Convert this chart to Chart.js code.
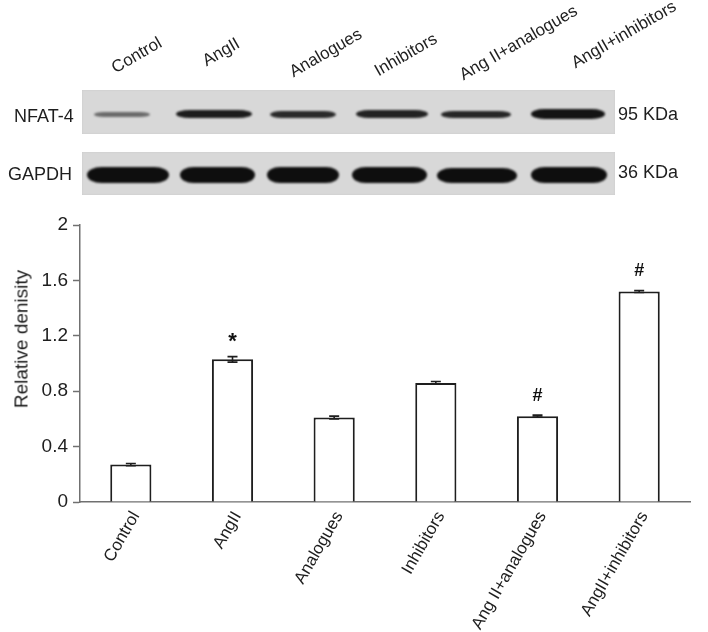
<!DOCTYPE html>
<html>
<head>
<meta charset="utf-8">
<script src="https://cdn.jsdelivr.net/npm/chart.js@4.4.1/dist/chart.umd.min.js"></script>
<style>
  html, body { margin: 0; padding: 0; background: #fff; }
  #wrap { position: relative; width: 708px; height: 632px; overflow: hidden; font-family: 'Liberation Sans', Arial, sans-serif; color: #1e1e1e; }
  #chart { position: absolute; left: 0; top: 0; }
  .lane-label { position: absolute; font-size: 17px; line-height: 17px; white-space: nowrap; transform-origin: left bottom; transform: rotate(-30deg); }
  .blot { position: absolute; left: 82px; width: 533px; background: #d8d8d8; box-shadow: inset 0 0 2px #c6c6c6; }
  .band { position: absolute; filter: blur(1.3px); }
  .side { position: absolute; font-size: 18px; line-height: 18px; white-space: nowrap; }
  #ytitle { position: absolute; font-size: 19px; line-height: 19px; white-space: nowrap; transform: translate(-50%, -50%) rotate(-90deg); left: 21px; top: 339px; }
</style>
</head>
<body>
<div id="wrap">
  <canvas id="chart" width="708" height="632"></canvas>
  <div id="blot-area"></div>
  <div id="ytitle">Relative denisity</div>
</div>
<script>
const GROUPS = ['Control', 'AngII', 'Analogues', 'Inhibitors', 'Ang II+analogues', 'AngII+inhibitors'];
const DENSITY = [0.27, 1.03, 0.61, 0.86, 0.62, 1.52];
const ERRORS = [0.008, 0.02, 0.01, 0.01, 0.007, 0.007];
const MARKS = ['', '*', '', '', '#', '#'];
const Y_TICKS = [0, 0.4, 0.8, 1.2, 1.6, 2];

// blot drawing (picture of the western blot, not chart data)
const LANE_LABEL_POS = [[117, 76], [208, 69], [295, 80], [380, 79], [465, 83], [577, 71]];
const NFAT_BANDS = [[122, 56, 5, '#6a6a6a'], [214, 76, 8, '#1c1c1c'], [303, 66, 7, '#2a2a2a'], [392, 72, 8, '#222'], [476, 70, 7, '#262626'], [568, 74, 10, '#141414']];
const GAPDH_BANDS = [[128, 82, 16], [217, 75, 16], [303, 72, 16], [389, 75, 16], [477, 80, 15], [569, 76, 16]];

const area = document.getElementById('blot-area');
GROUPS.forEach((g, i) => {
  const d = document.createElement('div');
  d.className = 'lane-label';
  d.textContent = g;
  d.style.left = LANE_LABEL_POS[i][0] + 'px';
  d.style.top = (LANE_LABEL_POS[i][1] - 17) + 'px';
  area.appendChild(d);
});

function addBlot(top, height, bands, bandY) {
  const box = document.createElement('div');
  box.className = 'blot';
  box.style.top = top + 'px';
  box.style.height = height + 'px';
  area.appendChild(box);
  bands.forEach(b => {
    const el = document.createElement('div');
    el.className = 'band';
    el.style.left = (b[0] - b[1] / 2 - 82) + 'px';
    el.style.width = b[1] + 'px';
    el.style.top = (bandY - b[2] / 2 - top) + 'px';
    el.style.height = b[2] + 'px';
    el.style.borderRadius = (b[1] * 0.18) + 'px / 50%';
    el.style.background = b[3] || '#0e0e0e';
    box.appendChild(el);
  });
}
addBlot(90, 44, NFAT_BANDS, 114);
addBlot(152, 43, GAPDH_BANDS, 175);

[['NFAT-4', 14, 107], ['GAPDH', 8, 165], ['95 KDa', 618, 105], ['36 KDa', 618, 163]].forEach(t => {
  const d = document.createElement('div');
  d.className = 'side';
  d.textContent = t[0];
  d.style.left = t[1] + 'px';
  d.style.top = t[2] + 'px';
  area.appendChild(d);
});

const FONT = "'Liberation Sans', Arial, sans-serif";

const errorBars = {
  id: 'errorBars',
  afterDatasetsDraw(chart) {
    const ctx = chart.ctx;
    const y = chart.scales.y;
    const meta = chart.getDatasetMeta(0);
    ctx.save();
    ctx.strokeStyle = '#1e1e1e';
    ctx.lineWidth = 1.6;
    meta.data.forEach((bar, i) => {
      const x = bar.x;
      const yHi = y.getPixelForValue(DENSITY[i] + ERRORS[i]);
      const yLo = y.getPixelForValue(DENSITY[i] - ERRORS[i]);
      ctx.beginPath();
      ctx.moveTo(x, yHi); ctx.lineTo(x, yLo);
      ctx.moveTo(x - 5, yHi); ctx.lineTo(x + 5, yHi);
      ctx.moveTo(x - 5, yLo); ctx.lineTo(x + 5, yLo);
      ctx.stroke();
      if (MARKS[i]) {
        const star = MARKS[i] === '*';
        ctx.fillStyle = '#111';
        ctx.font = 'bold ' + (star ? 22 : 18) + 'px ' + FONT;
        ctx.textAlign = 'center';
        ctx.textBaseline = 'bottom';
        ctx.fillText(MARKS[i], x, yHi - (star ? 4 : 10));
      }
    });
    ctx.restore();
  }
};

new Chart(document.getElementById('chart'), {
  type: 'bar',
  data: {
    labels: GROUPS,
    datasets: [{
      data: DENSITY,
      backgroundColor: '#ffffff',
      borderColor: '#1e1e1e',
      borderWidth: 2,
      barPercentage: 0.405,
      categoryPercentage: 1
    }]
  },
  options: {
    responsive: false,
    animation: false,
    devicePixelRatio: 1,
    layout: { padding: { top: 225, right: 18, left: 0, bottom: 0 } },
    plugins: { legend: { display: false }, tooltip: { enabled: false } },
    scales: {
      x: {
        afterFit: s => { s.height = 130; },
        grid: { display: false, drawTicks: false },
        border: { display: true, color: '#707070', width: 1.5 },
        ticks: { color: '#1e1e1e', font: { family: FONT, size: 17 }, minRotation: 60, maxRotation: 60, padding: 6, labelOffset: 5 }
      },
      y: {
        min: 0, max: 2,
        afterFit: s => { s.width = 80; },
        afterBuildTicks: s => { s.ticks = Y_TICKS.map(v => ({ value: v })); },
        grid: { display: true, drawOnChartArea: false, drawTicks: true, tickLength: 7, tickColor: '#707070', tickWidth: 1.5 },
        border: { display: true, color: '#707070', width: 1.5 },
        ticks: { color: '#1e1e1e', font: { family: FONT, size: 19 }, padding: 5, callback: v => String(+v.toFixed(1)) }
      }
    }
  },
  plugins: [errorBars]
});
</script>
</body>
</html>
